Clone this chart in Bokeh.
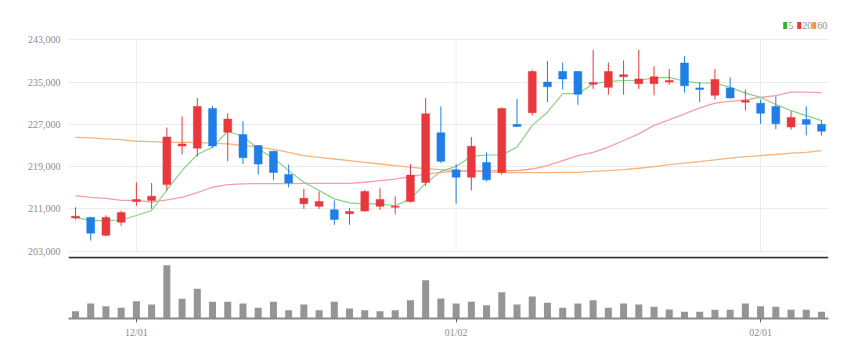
from bokeh.plotting import figure
from bokeh.layouts import column
from bokeh.models import (ColumnDataSource, Range1d, FixedTicker, NumeralTickFormatter, Span)
from bokeh.core.properties import value
from bokeh.embed import file_html
from bokeh.resources import INLINE

opens = [209300, 209400, 206000, 208500, 212400, 212600, 215600, 222900, 222500, 230000,
         225500, 225100, 223000, 221900, 217500, 212000, 211500, 210850, 210100, 210600,
         211500, 211300, 212400, 216000, 225400, 218400, 217000, 219800, 217900, 227000,
         229200, 235000, 237000, 237000, 234600, 234000, 236000, 234700, 234700, 235000,
         238600, 233900, 232500, 233900, 231200, 231000, 230400, 226500, 227900, 227000]
closes = [209600, 206400, 209400, 210300, 212800, 213400, 224600, 223300, 230400, 222900,
          228000, 220700, 219500, 217900, 215900, 213000, 212400, 209000, 210500, 214300,
          212800, 211500, 217400, 229000, 220000, 217000, 222850, 216500, 230000, 226600,
          237000, 234100, 235600, 232700, 234900, 237000, 236400, 235600, 236000, 235300,
          234300, 233600, 235500, 232000, 231500, 229100, 227100, 228300, 227000, 225700]
highs = [211300, 209500, 209800, 210700, 216000, 215900, 226400, 228500, 232000, 230500,
         229100, 227600, 223100, 222000, 219400, 214800, 214300, 212600, 211200, 214600,
         214900, 213400, 219500, 232000, 230400, 219500, 224600, 221700, 230200, 231800,
         237300, 239000, 238700, 237100, 241100, 238700, 239100, 241100, 238000, 237500,
         239900, 235000, 237500, 235900, 233600, 231700, 232300, 229500, 230400, 227800]
lows = [209000, 205000, 205800, 207800, 211600, 211000, 214500, 221300, 220900, 222500,
        220000, 219500, 217500, 216500, 215100, 211000, 211000, 208000, 208000, 210500,
        210800, 210000, 212200, 215300, 219700, 212000, 214500, 216200, 217500, 226500,
        228700, 231200, 233600, 230700, 233700, 232600, 232600, 233700, 232500, 234500,
        233000, 231200, 231700, 231900, 229600, 227100, 226100, 226000, 224900, 224900]
ma5 = [209400, 208800, 208800, 208900, 209750, 210700, 214600, 218250, 221300, 222700,
       225700, 224700, 222350, 220650, 218250, 216050, 214500, 212900, 212150, 211950,
       211950, 211600, 212900, 215850, 218100, 219050, 220950, 221200, 221200, 222700,
       226800, 229300, 232800, 232800, 234650, 235150, 235300, 235300, 235800, 235900,
       235150, 234850, 234800, 234000, 232900, 232100, 230750, 229600, 228650, 227700]
ma20 = [213500, 213200, 213000, 212600, 212600, 212300, 212700, 213200, 214100, 215100,
        215600, 215750, 215800, 215800, 215800, 215850, 215850, 215850, 215850, 216050,
        216350, 216650, 217100, 217600, 217900, 218100, 218250, 218250, 218250, 218250,
        218550, 219200, 220150, 221100, 221700, 222700, 223950, 225200, 226800, 227850,
        229000, 230100, 231000, 231350, 231650, 232100, 232450, 233100, 233100, 233000]
ma60 = [224550, 224450, 224250, 224100, 223800, 223750, 223600, 223600, 223600, 223400,
        223300, 223000, 222700, 222250, 221700, 221100, 220750, 220450, 220150, 219800,
        219500, 219200, 218900, 218600, 218450, 218250, 218100, 217950, 217900, 217850,
        217850, 217850, 217900, 217900, 218100, 218250, 218450, 218700, 219000, 219400,
        219650, 219950, 220300, 220600, 220900, 221100, 221300, 221550, 221700, 222050]
volumes = [22, 45, 37, 32, 52, 42, 160, 59, 89, 50,
           50, 45, 32, 50, 25, 42, 25, 50, 30, 25,
           22, 25, 55, 115, 60, 45, 50, 40, 79, 42,
           66, 47, 32, 45, 55, 32, 45, 42, 35, 27,
           20, 20, 26, 26, 45, 37, 35, 26, 26, 20]
volumes = [v * 1000 for v in volumes]

price_ticks = [203000, 211000, 219000, 227000, 235000, 243000]
date_tick_pos = [4, 25, 45]
date_tick_labels = ["12/01", "01/02", "02/01"]
legend_names = ["5", "20", "60"]

RED = "#e8383d"
BLUE = "#1f7fe6"
C5 = "#86d486"
C20 = "#f3a0a6"
C60 = "#f7b47c"
FONT = "Liberation Sans Narrow"

n = len(opens)
idx = list(range(n))
up = [c >= o for o, c in zip(opens, closes)]
src = ColumnDataSource(dict(
    x=idx,
    top=[max(o, c) for o, c in zip(opens, closes)],
    bottom=[min(o, c) for o, c in zip(opens, closes)],
    high=highs, low=lows,
    color=[RED if u else BLUE for u in up],
    vol=volumes,
))

xr = Range1d(-0.46, 49.46)

p1 = figure(width=852, height=260, x_range=xr, y_range=Range1d(201620, 248165),
            output_backend="svg", toolbar_location=None,
            min_border_left=68, min_border_right=24, min_border_top=12, min_border_bottom=2)
p1.outline_line_color = None
p1.xaxis.visible = False
p1.yaxis.ticker = FixedTicker(ticks=price_ticks)
p1.yaxis.formatter = NumeralTickFormatter(format="0,0")
p1.yaxis.axis_line_color = None
p1.yaxis.major_tick_line_color = None
p1.yaxis.minor_tick_line_color = None
p1.yaxis.major_label_text_color = "#8c8c8c"
p1.yaxis.major_label_text_font = FONT
p1.yaxis.major_label_text_font_size = "10px"
p1.yaxis.major_label_standoff = 2
p1.ygrid.grid_line_color = "#ebebeb"
p1.xgrid.visible = False

# vertical date grid lines, only across the price band
k = len(date_tick_pos)
p1.segment(x0=date_tick_pos, x1=date_tick_pos, y0=[min(price_ticks)] * k,
           y1=[max(price_ticks)] * k, line_color="#ececec", line_width=1)

p1.line(idx, ma60, color=C60, line_width=1.3)
p1.line(idx, ma20, color=C20, line_width=1.3)
p1.line(idx, ma5, color=C5, line_width=1.2)

p1.segment(x0="x", x1="x", y0="low", y1="high", color="color", line_width=1, source=src)
p1.vbar(x="x", width=0.52, top="top", bottom="bottom", fill_color="color",
        line_color="color", line_width=0.5, source=src)

p1.add_layout(Span(location=201760, dimension="width", line_color="#333333", line_width=2))

# legend (top right, above the price band)
def px_to_x(px):
    return (px - 75.0) / 15.22

leg_y = 245700
sq_px = [784.5, 798.5, 813.5]
txt_px = [787.5, 801.5, 816.5]
p1.rect(x=[px_to_x(v) for v in sq_px], y=[leg_y] * 3, width=4, height=7,
        width_units="screen", height_units="screen",
        fill_color=["#2fb52f", RED, "#f39a3c"], line_color=None)
p1.text(x=[px_to_x(v) for v in txt_px], y=[leg_y] * 3, text=legend_names,
        text_color="#8c8c8c", text_font=value(FONT), text_font_size="10px",
        text_baseline="middle", text_align="left")

p2 = figure(width=852, height=90, x_range=xr, y_range=Range1d(0, 174000),
            output_backend="svg", toolbar_location=None,
            min_border_left=68, min_border_right=24, min_border_top=0, min_border_bottom=32)
p2.outline_line_color = None
p2.yaxis.visible = False
p2.grid.grid_line_color = None
p2.vbar(x="x", width=0.46, top="vol", bottom=0, fill_color="#959595",
        line_color=None, source=src)
p2.xaxis.ticker = FixedTicker(ticks=date_tick_pos)
p2.xaxis.major_label_overrides = {p: l for p, l in zip(date_tick_pos, date_tick_labels)}
p2.xaxis.axis_line_color = "#8a8a8a"
p2.xaxis.axis_line_width = 2
p2.xaxis.major_tick_line_color = "#666666"
p2.xaxis.major_tick_in = 0
p2.xaxis.major_tick_out = 4
p2.xaxis.minor_tick_line_color = None
p2.xaxis.major_label_text_color = "#8c8c8c"
p2.xaxis.major_label_text_font = FONT
p2.xaxis.major_label_text_font_size = "10px"
p2.xaxis.major_label_standoff = 4

layout = column(p1, p2, spacing=0)
open("out.html", "w").write(file_html(layout, INLINE))
